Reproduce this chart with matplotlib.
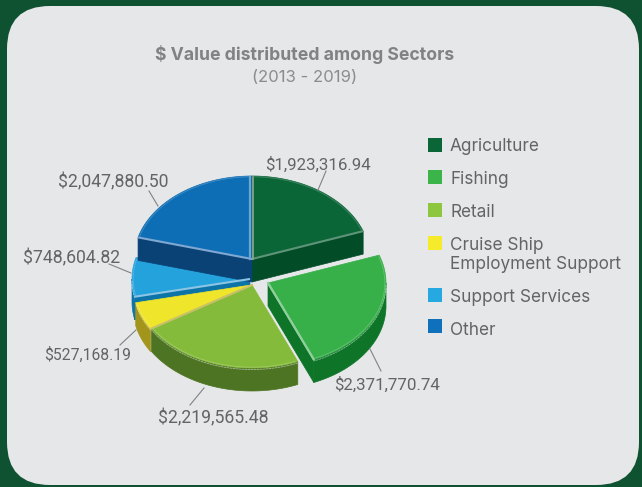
"""
Sector distribution shown as an extruded pie with one slice pulled out
"""

import numpy as np
import matplotlib.pyplot as plt
from matplotlib.patches import FancyBboxPatch, Polygon, Rectangle

plt.rcParams['font.family'] = ['Inter', 'DejaVu Sans']

sectors = ['Agriculture', 'Fishing', 'Retail', 'Cruise Ship\nEmployment Support',
           'Support Services', 'Other']
values = [1923316.94, 2371770.74, 2219565.48, 527168.19, 748604.82, 2047880.50]
value_labels = ['$1,923,316.94', '$2,371,770.74', '$2,219,565.48', '$527,168.19',
                '$748,604.82', '$2,047,880.50']

top_colors = ['#0A6537', '#37B04A', '#85BB3A', '#EFE52A', '#24A2DC', '#0E6EB5']
wall_colors = ['#034C28', '#0D7428', '#4D7422', '#A3941C', '#0D74A8', '#0A4276']
edge_colors = ['#5E9478', '#8FCF9A', '#C9C06A', '#C9C06A', '#8CC4E4', '#7FA8D2']
legend_colors = ['#0A6537', '#3BB54A', '#8DC63F', '#F5EB2A', '#25A9E0', '#0F71BB']
text_color = '#636466'

RX, RY, DEPTH = 118, 83, 23
# slice apex in pixels, each slice sits a little differently
apex = [(252, 259), (268, 283), (252, 285), (251, 285), (250, 279), (252, 259)]

edges = np.concatenate([[0], np.cumsum(values)]) / np.sum(values) * 2 * np.pi


def rim(i, a0, a1, n=80, r=1.0):
    t = np.linspace(a0, a1, n)
    return apex[i][0] + r * RX * np.sin(t), apex[i][1] - r * RY * np.cos(t)


def draw_outer_wall(i, a0, a1):
    # only the part of the rim facing the viewer gets a wall
    a0, a1 = max(a0, np.pi / 2), min(a1, 3 * np.pi / 2)
    if a1 <= a0:
        return
    x, y = rim(i, a0, a1)
    xy = np.r_[np.c_[x, y], np.c_[x[::-1], y[::-1] + DEPTH]]
    ax.add_patch(Polygon(xy, fc=wall_colors[i], ec=wall_colors[i], lw=0.5))
    ax.plot(x, y + 1.5, color='white', alpha=0.5, lw=0.6, ls=(0, (3, 0.6)))


def draw_radial_wall(i, a):
    x, y = rim(i, a, a, n=1)
    ox, oy = apex[i]
    xy = [(ox, oy), (x[0], y[0]), (x[0], y[0] + DEPTH), (ox, oy + DEPTH)]
    ax.add_patch(Polygon(xy, fc=wall_colors[i], ec=wall_colors[i], lw=0.5))
    ax.plot([ox, x[0]], [oy, y[0]], color=edge_colors[i], lw=1.5, solid_capstyle='butt')


def draw_top(i):
    a0, a1 = edges[i], edges[i + 1]
    x, y = rim(i, a0, a1)
    xy = np.r_[[apex[i]], np.c_[x, y]]
    ax.add_patch(Polygon(xy, fc=top_colors[i], ec=top_colors[i], lw=0.5))
    # pale bevel just inside the rim
    x, y = rim(i, a0 + 0.02, a1 - 0.02, r=0.99)
    ax.plot(x, y, color='white', alpha=0.22, lw=0.6)


fig = plt.figure(figsize=(6.42, 4.87), dpi=100, facecolor='#0F5231')
ax = fig.add_axes([0, 0, 1, 1])
ax.set_xlim(0, 642)
ax.set_ylim(487, 0)
ax.axis('off')

ax.add_patch(FancyBboxPatch((7 + 43, 6 + 43), 632 - 86, 479 - 86,
                            boxstyle='round,pad=43,rounding_size=43',
                            fc='#E6E7E8', ec='none'))

ax.text(304.5, 55, r'\$ Value distributed among Sectors', ha='center',
        va='center', fontsize=12.7, fontweight='bold', color='#808285')
ax.text(304.5, 77, '(2013 - 2019)', ha='center', va='center', fontsize=12, color='#8A8C8E')

# back to front
draw_top(5)
draw_radial_wall(0, edges[1])
draw_top(0)
draw_outer_wall(4, edges[4], edges[5])
draw_radial_wall(4, edges[4])
draw_top(4)
draw_radial_wall(5, edges[5])
draw_outer_wall(3, edges[3], edges[4])
draw_top(3)
draw_outer_wall(2, edges[2], edges[3])
draw_top(2)
# tan seam between the yellow and lime slices
sx, sy = rim(2, edges[3], edges[3], n=1)
ax.plot([apex[2][0], sx[0]], [apex[2][1], sy[0]], color=edge_colors[2], lw=1.5)
draw_outer_wall(1, edges[1], edges[2])
draw_radial_wall(1, edges[2])
draw_top(1)
# the pulled-out slice keeps a light edge on its cut side
sx, sy = rim(1, edges[2], edges[2], n=1)
ax.plot([apex[1][0], sx[0]], [apex[1][1], sy[0]], color=edge_colors[1], lw=1.5)

# bevels where the two back slices meet
ax.plot([250, 250], [177, 259], color='#6FA3D2', lw=1.6)
ax.plot([252.5, 252.5], [177, 259], color='#8FA89A', lw=1.2)

# value labels with their leader lines
label_xy = [(318, 170), (387, 390), (213, 423), (88, 360), (72, 263), (113, 187)]
label_sizes = [12.2, 12.2, 12.7, 11.3, 12.7, 12.7]
leaders = [[(318, 190), (326, 171)], [(370, 349), (381, 371)], [(204, 388), (190, 405)],
           [(136, 330), (120, 345)], [(131, 273), (109, 264)], [(158, 206), (149, 191)]]
for txt, xy, size, seg in zip(value_labels, label_xy, label_sizes, leaders):
    ax.text(xy[0], xy[1], txt.replace('$', r'\$'), ha='center', va='baseline',
            fontsize=size, family='Roboto', color=text_color)
    ax.plot(*zip(*seg), color='#808285', lw=0.8)

# legend
swatch_y = [138, 170, 203, 236, 288, 319]
label_y = [151, 184, 217, 250, 302, 335]
for name, col, sy, ly in zip(sectors, legend_colors, swatch_y, label_y):
    ax.add_patch(Rectangle((428, sy), 14, 14, fc=col, ec='none'))
    ax.text(450, ly, name.split('\n')[0], va='baseline', fontsize=12.4, color=text_color)
    if '\n' in name:
        ax.text(450, ly + 19, name.split('\n')[1], va='baseline', fontsize=12.4, color=text_color)

plt.savefig('out.png', dpi=100)
